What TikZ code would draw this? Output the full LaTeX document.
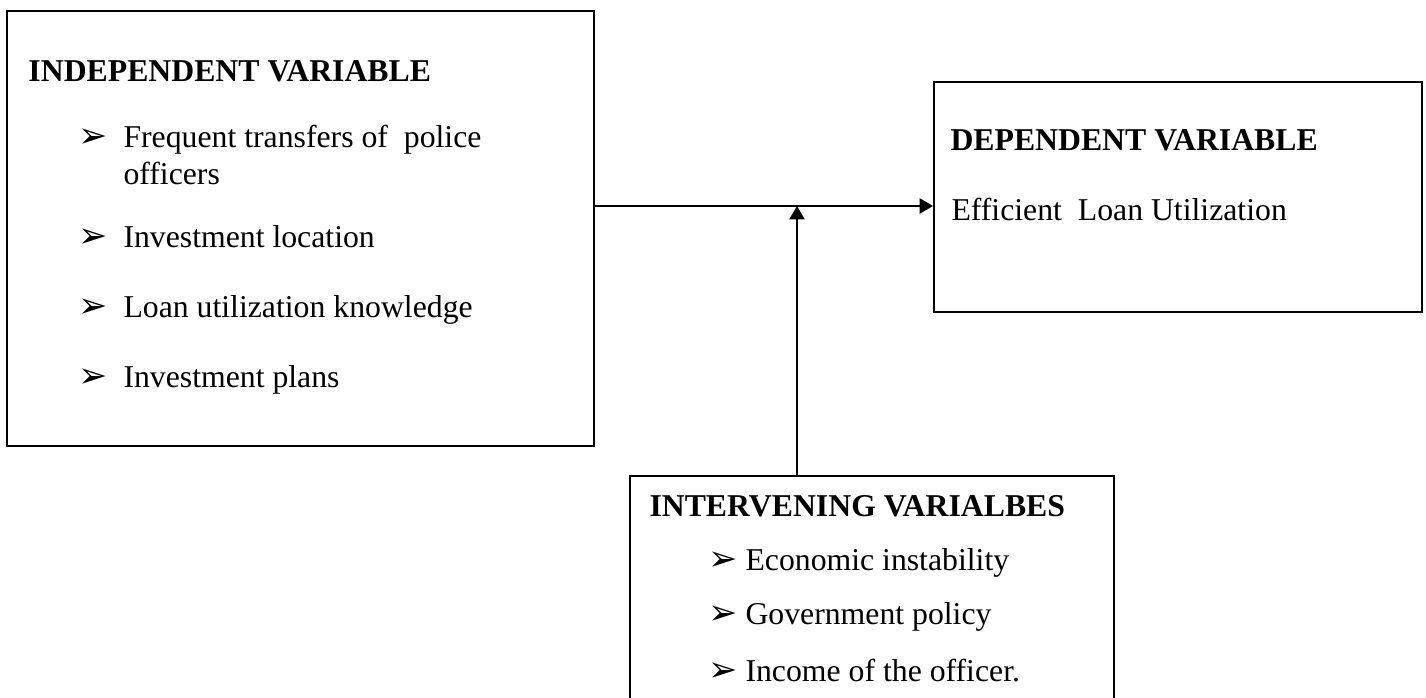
\documentclass[tikz,border=0pt]{standalone}
\usepackage{fontspec}
\setmainfont{Liberation Serif}
\newfontfamily\dingfont{DejaVu Sans}
\usetikzlibrary{positioning,arrows.meta}
\newcommand{\bul}{{\dingfont\fontsize{14}{14}\selectfont ➢}}

\begin{document}
\begin{tikzpicture}
  [
  x=0.4pt, y=-0.4pt,
  varbox/.style={rectangle,draw,line width=0.8pt,anchor=north west,inner sep=0pt},
  head/.style={anchor=base west,inner sep=0pt,font=\bfseries\fontsize{12.7}{15}\selectfont},
  item/.style={anchor=base west,inner sep=0pt,font=\fontsize{12.7}{15}\selectfont},
  bullet/.style={anchor=base west,inner sep=0pt},
  conn/.style={line width=0.5pt,-{Triangle[length=5.4pt,width=6.2pt]}}
  ]
  \useasboundingbox (0,0) rectangle (1426,698);

  % the three boxes
  \node (indep) [varbox,minimum width=234.8pt,minimum height=174pt] at (6,10) {};
  \node (dep)   [varbox,minimum width=195.2pt,minimum height=92pt]  at (933,81) {};
  \node (inter) [varbox,minimum width=193.6pt,minimum height=100pt] at (629,475) {};

  % independent variable
  \node (indephead) [head] at (28,82) {INDEPENDENT VARIABLE};
  \node (ib1) [bullet] at (78,148) {\bul};
  \node (it1) [item]   at (123,148) {Frequent transfers of\ \ police};
  \node (it1b) [item]  at (123,185) {officers};
  \node (ib2) [bullet] at (78,248) {\bul};
  \node (it2) [item]   at (123,248) {Investment location};
  \node (ib3) [bullet] at (78,318) {\bul};
  \node (it3) [item]   at (123,318) {Loan utilization knowledge};
  \node (ib4) [bullet] at (78,388) {\bul};
  \node (it4) [item]   at (123,388) {Investment plans};

  % dependent variable
  \node (dephead) [head] at (950,151) {DEPENDENT VARIABLE};
  \node (dept1)   [item] at (951,221) {Efficient\ \ Loan Utilization};

  % intervening variables
  \node (interhead) [head] at (649,517) {INTERVENING VARIALBES};
  \node (nb1) [bullet] at (708,570) {\bul};
  \node (nt1) [item]   at (745,570) {Economic instability};
  \node (nb2) [bullet] at (708,625) {\bul};
  \node (nt2) [item]   at (745,625) {Government policy};
  \node (nb3) [bullet] at (708,681) {\bul};
  \node (nt3) [item]   at (745,681) {Income of the officer.};

  % connectors
  \coordinate (meet) at (797,206);
  \draw [conn] (indep.east |- meet) -- (dep.west |- meet);
  \draw [conn] (inter.north -| meet) -- (meet);
\end{tikzpicture}
\end{document}
